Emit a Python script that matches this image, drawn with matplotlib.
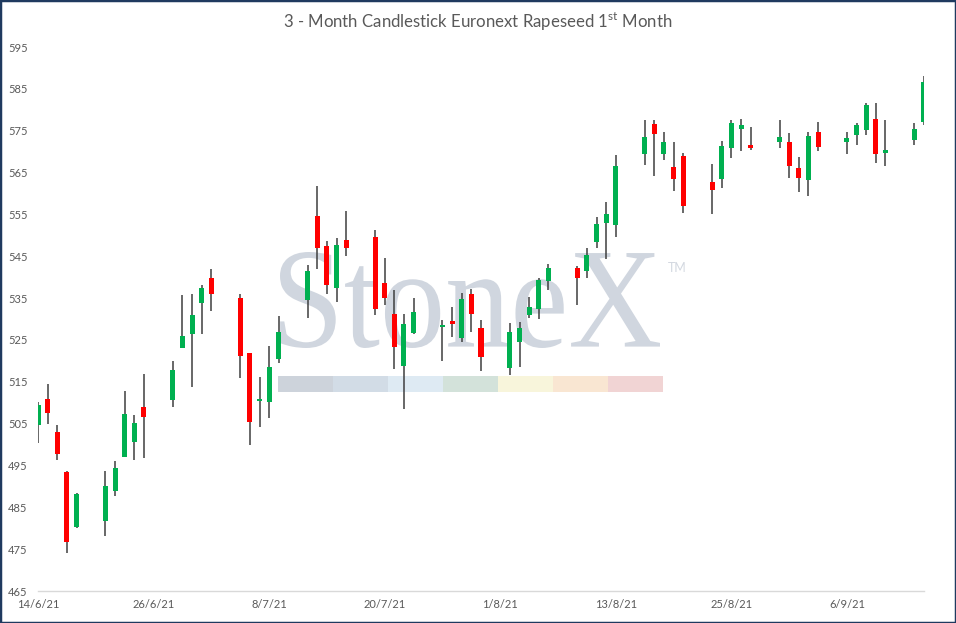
import datetime as dt
import numpy as np
import matplotlib
matplotlib.use("Agg")
import matplotlib.pyplot as plt
import matplotlib.dates as mdates
from matplotlib.patches import Rectangle, PathPatch
from matplotlib.textpath import TextPath
from matplotlib.font_manager import FontProperties
from matplotlib.transforms import Affine2D

# daily OHLC
dates = [
    "2021-06-14", "2021-06-15", "2021-06-16", "2021-06-17", "2021-06-18",
    "2021-06-21", "2021-06-22", "2021-06-23", "2021-06-24", "2021-06-25",
    "2021-06-28", "2021-06-29", "2021-06-30", "2021-07-01", "2021-07-02",
    "2021-07-05", "2021-07-06", "2021-07-07", "2021-07-08", "2021-07-09",
    "2021-07-12", "2021-07-13", "2021-07-14", "2021-07-15", "2021-07-16",
    "2021-07-19", "2021-07-20", "2021-07-21", "2021-07-22", "2021-07-23",
    "2021-07-26", "2021-07-27", "2021-07-28", "2021-07-29", "2021-07-30",
    "2021-08-02", "2021-08-03", "2021-08-04", "2021-08-05", "2021-08-06",
    "2021-08-09", "2021-08-10", "2021-08-11", "2021-08-12", "2021-08-13",
    "2021-08-16", "2021-08-17", "2021-08-18", "2021-08-19", "2021-08-20",
    "2021-08-23", "2021-08-24", "2021-08-25", "2021-08-26", "2021-08-27",
    "2021-08-30", "2021-08-31", "2021-09-01", "2021-09-02", "2021-09-03",
    "2021-09-06", "2021-09-07", "2021-09-08", "2021-09-09", "2021-09-10",
    "2021-09-13", "2021-09-14",
]
opens = [
    504.7, 510.9, 503.0, 493.4, 480.4,
    481.8, 489.0, 497.1, 500.7, 509.0,
    510.7, 523.1, 526.3, 533.9, 539.8,
    535.0, 521.9, 510.5, 510.2, 520.5,
    534.6, 554.6, 547.4, 537.5, 548.9,
    549.6, 538.6, 531.2, 518.8, 526.7,
    528.2, 529.5, 525.5, 536.0, 527.8,
    518.3, 524.6, 531.0, 532.4, 539.2,
    542.2, 541.5, 548.5, 553.0, 552.5,
    569.5, 576.6, 569.5, 566.3, 568.9,
    562.7, 563.5, 570.9, 575.5, 571.5,
    572.4, 572.3, 566.1, 563.3, 574.7,
    572.4, 574.0, 575.2, 577.8, 569.7,
    572.8, 577.0,
]
highs = [
    510.1, 514.5, 504.7, 493.7, 488.4,
    493.7, 496.1, 512.8, 507.1, 516.9,
    520.0, 535.7, 536.0, 538.1, 541.9,
    536.0, 521.9, 516.1, 523.5, 530.7,
    542.8, 561.8, 548.6, 549.3, 555.8,
    551.3, 544.6, 536.9, 531.3, 535.0,
    529.8, 532.9, 536.1, 537.1, 529.7,
    529.0, 529.4, 535.3, 539.8, 543.1,
    542.7, 547.0, 554.4, 558.0, 569.2,
    577.5, 577.5, 574.8, 572.3, 569.6,
    567.0, 572.5, 577.5, 577.7, 575.8,
    577.5, 574.4, 568.6, 574.8, 577.0,
    574.7, 576.8, 581.5, 581.5, 577.5,
    576.8, 588.1,
]
lows = [
    500.3, 505.0, 496.4, 474.2, 480.1,
    478.2, 487.8, 497.1, 496.4, 496.9,
    509.0, 523.1, 513.7, 526.5, 532.0,
    515.8, 500.0, 504.3, 506.3, 519.6,
    530.3, 541.9, 536.0, 534.1, 545.1,
    531.0, 533.4, 518.0, 508.4, 526.3,
    520.0, 525.8, 524.5, 526.9, 517.6,
    516.7, 518.6, 530.3, 530.1, 537.0,
    533.4, 539.9, 547.0, 544.3, 549.7,
    566.9, 564.2, 568.1, 560.7, 555.4,
    555.2, 561.2, 568.5, 570.2, 570.5,
    570.9, 563.8, 560.4, 559.5, 570.2,
    569.5, 571.7, 574.0, 567.3, 566.6,
    571.7, 576.3,
]
closes = [
    509.4, 507.6, 497.8, 476.8, 488.2,
    490.1, 494.4, 507.3, 505.1, 506.7,
    517.8, 525.9, 531.0, 537.4, 536.0,
    521.2, 505.5, 510.9, 518.5, 526.9,
    541.5, 547.0, 538.2, 547.7, 547.0,
    532.5, 534.9, 523.4, 528.8, 531.7,
    528.6, 528.9, 534.8, 531.3, 520.9,
    526.9, 527.8, 532.9, 539.3, 542.2,
    539.9, 545.3, 552.7, 555.1, 566.6,
    573.5, 574.3, 572.3, 563.5, 557.1,
    560.9, 571.3, 576.8, 576.3, 570.9,
    573.5, 566.6, 563.8, 573.7, 571.2,
    573.2, 576.3, 581.1, 569.5, 570.4,
    575.3, 586.6,
]
tick_dates = ["2021-06-14", "2021-06-26", "2021-07-08", "2021-07-20",
              "2021-08-01", "2021-08-13", "2021-08-25", "2021-09-06"]
y_ticks = list(range(465, 596, 10))

title = "3 - Month Candlestick Euronext Rapeseed 1$^{\\mathrm{st}}$ Month"
up_color = "#00B050"
down_color = "#FF0000"
wick_color = "#3F3F3F"
text_color = "#595959"

plt.rcParams["font.family"] = ["Lato", "DejaVu Sans"]
plt.rcParams["mathtext.fontset"] = "custom"
plt.rcParams["mathtext.rm"] = "Lato"

W, H = 956, 623
fig = plt.figure(figsize=(W / 100, H / 100), dpi=100)
ax = fig.add_axes([38 / W, 1 - 591 / H, (924 - 38) / W, (591 - 47) / H])
ax.set_facecolor("none")

x = mdates.date2num([dt.date.fromisoformat(d) for d in dates])
o = np.array(opens)
h = np.array(highs)
l = np.array(lows)
c = np.array(closes)
up = c >= o

ax.vlines(x, l, h, color=wick_color, lw=1.1, zorder=2)
ax.bar(x, np.abs(c - o), bottom=np.minimum(o, c), width=0.52,
       color=np.where(up, up_color, down_color), zorder=3, linewidth=0)

ax.set_xlim(x[0], x[-1])
ax.set_ylim(465, 595)

tx = [dt.date.fromisoformat(d) for d in tick_dates]
ax.set_xticks(mdates.date2num(tx))
ax.set_xticklabels([f"{d.day}/{d.month}/{d.strftime('%y')}" for d in tx])
ax.set_yticks(y_ticks)
ax.set_yticklabels([str(v) for v in y_ticks])
ax.tick_params(axis="both", length=0, labelsize=8, labelcolor=text_color)
ax.tick_params(axis="y", pad=7.5)
ax.tick_params(axis="x", pad=6)
for side in ["left", "right", "top"]:
    ax.spines[side].set_visible(False)
ax.spines["bottom"].set_color("#D9D9D9")
ax.spines["bottom"].set_linewidth(1.0)

# StoneX watermark behind the candles
tp = TextPath((0, 0), "StoneX", prop=FontProperties(family="Liberation Serif"), size=100)
ext = tp.get_extents()
sx = (660 - 280) / ext.width
sy = (348 - 252) / ext.height
wm_tr = (Affine2D().translate(-ext.x0, -ext.y0).scale(sx / W, sy / H)
         .translate(280 / W, (H - 348) / H) + fig.transFigure)
ax.add_patch(PathPatch(tp, transform=wm_tr, facecolor="#D0D6DF",
                       edgecolor="none", zorder=1, clip_on=False))
fig.text(668 / W, 1 - 268 / H, "TM", fontsize=9, color="#D3D8E0",
         va="center", ha="left", zorder=1)
bar_colors = ["#CDD3DB", "#D2DCE6", "#DEEAF3", "#D3E2DA",
              "#F8F5DB", "#F9E6D2", "#F1D4D4"]
seg = (663 - 278) / len(bar_colors)
for i, col in enumerate(bar_colors):
    ax.add_patch(Rectangle(((278 + i * seg) / W, (H - 392) / H), seg / W, 16 / H,
                           transform=fig.transFigure, facecolor=col,
                           edgecolor="none", zorder=1, clip_on=False))

fig.text(0.5, 1 - 28 / H, title, ha="center", va="baseline",
         fontsize=12.1, color=text_color)

fig.patches.append(Rectangle((0, 0), 1, 1, transform=fig.transFigure,
                             fill=False, edgecolor="#1F3A5F", lw=2.5))

fig.savefig("out.png", dpi=100)
